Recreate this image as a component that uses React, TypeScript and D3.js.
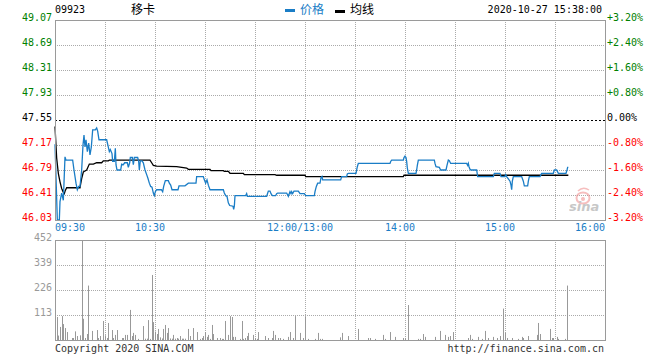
import React from "react";
import * as d3 from "d3";

// ---- data (minute offsets from 09:30, trading minutes; 150 = 12:00/13:00) ----
const stockCode = "09923";
const stockName = "移卡";
const timestamp = "2020-10-27 15:38:00";
const prevClose = 47.55;

const priceTicks = [49.07, 48.69, 48.31, 47.93, 47.55, 47.17, 46.79, 46.41, 46.03];
const pctLabels = ["+3.20%", "+2.40%", "+1.60%", "+0.80%", "0.00%", "-0.80%", "-1.60%", "-2.40%", "-3.20%"];
const volTicks = [452, 339, 226, 113];
const timeTickMinutes = [0, 60, 150, 210, 270, 330];
const timeTickLabels = ["09:30", "10:30", "12:00/13:00", "14:00", "15:00", "16:00"];
const gridMinutes = [30, 60, 90, 120, 150, 180, 210, 240, 270, 300];

const priceMinutes = [
  0, 1.4, 2.6, 3, 4, 5, 6, 6.6, 10.6, 11.4, 12.6, 13.4, 14.2, 15, 16, 16.8, 17.4, 18, 18.6, 19.4,
  20.2, 21, 21.8, 22.6, 24.2, 25, 25.6, 26.4, 31, 31.8, 32.6, 33.2, 34.2, 34.6, 35.6, 36.2, 36.6, 37.2, 39.4, 40,
  41, 41.8, 43.4, 44, 44.8, 45.2, 46.4, 47, 47.6, 49.6, 50.2, 50.6, 51.2, 52.2, 53, 54, 55, 55.8, 56.6, 57.4,
  58.2, 59, 59.6, 60.2, 61, 63.8, 64.6, 65.2, 66.2, 68, 68.6, 69.4, 70.2, 73.8, 74.4, 78, 80, 84.6, 85, 89,
  89.6, 90.4, 91.2, 92, 93, 101, 101.6, 102.4, 103.2, 104, 104.8, 106.8, 107.2, 107.6, 108, 114.4, 115, 115.4, 127, 128,
  129, 129.6, 130.4, 132.4, 133, 133.6, 139, 140, 141, 141.6, 142, 142.6, 143.4, 146, 147, 149.6, 150.4, 155.6, 156, 156.8,
  157.6, 159, 159.6, 160.2, 160.6, 171.4, 172, 175, 175.4, 176, 180.6, 181, 181.4, 182, 201, 201.4, 202, 209, 209.4, 210,
  210.6, 211, 211.4, 212, 216.6, 217, 217.4, 218, 227.6, 228, 228.6, 230.6, 231.4, 234.6, 235.2, 236, 236.6, 237.4, 247, 247.6,
  248, 248.4, 249, 249.6, 253, 253.6, 263, 263.6, 267, 267.6, 270, 270.4, 271, 273, 273.6, 274, 274.4, 275, 280, 281,
  281.6, 283.6, 284, 284.6, 291, 291.6, 292, 299, 299.6, 301, 302, 306.6, 307.2, 307.6, 308,
];
const priceValues = [
  47.18, 46.03, 46.03, 46.31, 46.44, 46.33, 46.99, 46.94, 46.94, 46.79, 46.59, 46.49, 46.54, 46.54, 46.79, 47.17, 47.32, 47.14, 47.25, 47.07,
  47.2, 47.02, 47.14, 47.4, 47.4, 47.43, 47.38, 47.25, 47.25, 47.16, 47.07, 47.1, 47.04, 46.92, 46.92, 47.12, 46.87, 46.79, 46.79, 46.88,
  46.87, 46.9, 46.9, 46.83, 46.9, 46.98, 46.98, 46.87, 46.98, 46.98, 46.92, 46.79, 46.93, 46.93, 46.9, 46.79, 46.72, 46.66, 46.59, 46.54,
  46.53, 46.44, 46.4, 46.46, 46.49, 46.49, 46.46, 46.54, 46.63, 46.63, 46.59, 46.56, 46.49, 46.49, 46.55, 46.55, 46.59, 46.59, 46.69, 46.69,
  46.64, 46.59, 46.64, 46.56, 46.49, 46.49, 46.44, 46.4, 46.39, 46.29, 46.25, 46.24, 46.19, 46.24, 46.4, 46.4, 46.43, 46.39, 46.39, 46.47,
  46.47, 46.43, 46.4, 46.4, 46.43, 46.44, 46.44, 46.39, 46.46, 46.43, 46.46, 46.43, 46.47, 46.47, 46.43, 46.43, 46.4, 46.4, 46.46, 46.54,
  46.59, 46.59, 46.67, 46.69, 46.64, 46.64, 46.69, 46.69, 46.73, 46.74, 46.74, 46.79, 46.84, 46.89, 46.89, 46.92, 46.94, 46.94, 46.98, 47.0,
  46.98, 46.92, 46.82, 46.74, 46.74, 46.79, 46.86, 46.94, 46.94, 46.89, 46.84, 46.83, 46.79, 46.79, 46.86, 46.94, 46.93, 46.89, 46.89, 46.86,
  46.89, 46.84, 46.8, 46.79, 46.79, 46.69, 46.69, 46.74, 46.74, 46.69, 46.69, 46.72, 46.69, 46.62, 46.56, 46.49, 46.62, 46.69, 46.69, 46.62,
  46.55, 46.55, 46.62, 46.69, 46.69, 46.72, 46.74, 46.74, 46.79, 46.79, 46.74, 46.74, 46.79, 46.83, 46.83,
];

const avgMinutes = [
  0, 1, 2, 3, 4, 5, 5.6, 6.2, 7, 15, 15.4, 16, 17, 19, 20.6, 23, 25, 28, 29, 32,
  32.6, 57, 58, 59, 61, 73, 79, 80, 93, 93.6, 101, 101.6, 104, 105, 113, 113.6, 132, 133, 150, 150.4,
  209, 209.4, 308,
];
const avgValues = [
  47.45, 46.97, 46.74, 46.61, 46.51, 46.45, 46.43, 46.48, 46.52, 46.52, 46.58, 46.66, 46.76, 46.79, 46.88, 46.88, 46.9, 46.9, 46.93, 46.93,
  46.94, 46.94, 46.9, 46.86, 46.85, 46.84, 46.82, 46.8, 46.8, 46.78, 46.78, 46.77, 46.77, 46.74, 46.74, 46.72, 46.72, 46.71, 46.71, 46.69,
  46.69, 46.71, 46.71,
];

const volMinutes = [
  1, 2, 3, 4, 5, 6, 7, 10, 11, 12, 13, 15, 16, 17, 18, 19, 20, 22, 25, 26,
  27, 29, 30, 31, 32, 34, 35, 36, 37, 40, 41, 42, 43, 45, 46, 47, 48, 50, 53, 54,
  55, 56, 57, 58, 59, 60, 61, 62, 63, 64, 65, 66, 67, 68, 69, 70, 71, 72, 73, 74,
  75, 76, 77, 78, 80, 81, 83, 85, 87, 88, 89, 90, 91, 92, 93, 94, 95, 97, 99, 100,
  101, 102, 104, 105, 106, 107, 108, 111, 112, 113, 114, 115, 116, 119, 120, 121, 122, 126, 128, 130,
  131, 132, 134, 135, 137, 140, 141, 143, 144, 147, 149, 150, 152, 156, 158, 159, 160, 171, 172, 176,
  182, 188, 189, 192, 197, 198, 201, 204, 209, 210, 212, 218, 219, 221, 222, 228, 231, 234, 236, 237,
  239, 248, 249, 250, 254, 256, 258, 260, 263, 265, 267, 269, 270, 271, 274, 278, 280, 281, 284, 289,
  290, 291, 297, 298, 299, 301, 302, 306, 307,
];
const volValues = [
  104, 20, 59, 108, 72, 54, 36, 9, 9, 39, 18, 21, 452, 96, 9, 27, 246, 41, 45, 9,
  18, 86, 21, 9, 77, 45, 9, 23, 45, 9, 9, 23, 23, 136, 18, 32, 23, 5, 63, 6,
  6, 90, 5, 294, 81, 38, 27, 50, 12, 7, 50, 68, 32, 54, 7, 6, 23, 6, 9, 6,
  18, 6, 6, 6, 50, 18, 54, 36, 5, 9, 18, 36, 14, 23, 5, 68, 27, 9, 9, 5,
  5, 86, 23, 108, 104, 14, 14, 5, 86, 5, 9, 18, 32, 23, 9, 5, 36, 18, 9, 9,
  41, 23, 9, 9, 5, 14, 36, 9, 108, 32, 9, 104, 5, 5, 32, 5, 5, 12, 32, 18,
  50, 9, 9, 5, 23, 5, 36, 14, 9, 9, 158, 5, 5, 27, 14, 14, 41, 23, 14, 18,
  36, 9, 23, 5, 14, 5, 41, 9, 14, 9, 18, 142, 32, 9, 9, 5, 14, 9, 18, 23,
  77, 27, 50, 9, 9, 14, 5, 5, 246,
];

// ---- layout ----
const W = 660;
const H = 360;
const L = 55;
const R = 605;
const PT = 20;
const PB = 220;
const VT = 240;
const VB = 340;

const MONO = "'DejaVu Sans Mono', monospace";
const CJK = "'Noto Sans CJK SC', sans-serif";
const BLUE = "#1a7dc6";
const GRID = "#aaaaaa";
const FRAME = "#9a9a9a";

export default function App() {
  const x = d3.scaleLinear().domain([0, 330]).range([L, R]);
  const y = d3.scaleLinear().domain([priceTicks[priceTicks.length - 1], priceTicks[0]]).range([PB, PT]);
  const yv = d3.scaleLinear().domain([0, volTicks[0]]).range([VB, VT]);

  const priceData = priceMinutes.map((m, i) => [m, priceValues[i]] as [number, number]);
  const avgData = avgMinutes.map((m, i) => [m, avgValues[i]] as [number, number]);

  const line = d3
    .line<[number, number]>()
    .x((d) => x(d[0]))
    .y((d) => y(d[1]));

  const priceColor = (p: number) => (p > prevClose ? "#008000" : p < prevClose ? "#ff0000" : "#000000");

  const crisp = (v: number) => Math.round(v) + 0.5;

  return (
    <svg
      width={W}
      height={H}
      style={{ position: "absolute", left: 0, top: 0, background: "#fff" }}
      xmlns="http://www.w3.org/2000/svg"
    >
      <rect x={0} y={0} width={W} height={H} fill="#fff" />

      {/* header */}
      <text x={L} y={13} fontFamily={MONO} fontSize={10} fill="#000">{stockCode}</text>
      <text x={131} y={14} fontFamily={CJK} fontSize={12} fill="#000">{stockName}</text>
      <rect x={285} y={9} width={10} height={3} fill={BLUE} />
      <text x={300} y={14} fontFamily={CJK} fontSize={12} fill={BLUE}>价格</text>
      <rect x={335} y={10} width={10} height={3} fill="#000" />
      <text x={350} y={14} fontFamily={CJK} fontSize={12} fill="#000">均线</text>
      <text x={602} y={13} fontFamily={MONO} fontSize={10} fill="#000" textAnchor="end">{timestamp}</text>

      {/* price grid */}
      {priceTicks.slice(1, -1).map((p) =>
        p === prevClose ? null : (
          <line key={"hg" + p} x1={L} x2={R} y1={crisp(y(p))} y2={crisp(y(p))} stroke={GRID} strokeDasharray="1,1" />
        )
      )}
      {gridMinutes.map((m) => (
        <line key={"vg" + m} x1={crisp(x(m))} x2={crisp(x(m))} y1={PT} y2={PB} stroke={GRID} strokeDasharray="1,1" />
      ))}
      <line x1={L} x2={R} y1={crisp(y(prevClose))} y2={crisp(y(prevClose))} stroke="#000" strokeDasharray="2,2" />

      {/* watermark */}
      <g opacity={0.55}>
        <ellipse cx={583} cy={198} rx={6.5} ry={5.5} fill="none" stroke="#f08a8a" strokeWidth={2} />
        <circle cx={583} cy={199} r={2} fill="#f08a8a" />
        <path d="M578,191 q5,-5 11,-1" fill="none" stroke="#f08a8a" strokeWidth={1.5} />
        <text x={569} y={211} fontFamily="'DejaVu Sans', sans-serif" fontSize={13} fontWeight="bold" fontStyle="italic" fill="#9a9a9a">sina</text>
      </g>

      {/* lines */}
      <path d={line(avgData) || ""} fill="none" stroke="#000" strokeWidth={1.3} />
      <path d={line(priceData) || ""} fill="none" stroke={BLUE} strokeWidth={1.3} />

      {/* price frame */}
      <rect x={L + 0.5} y={PT + 0.5} width={R - L} height={PB - PT} fill="none" stroke={FRAME} strokeWidth={1} />

      {/* price labels */}
      {priceTicks.map((p) => (
        <text key={"pl" + p} x={52} y={Math.round(y(p)) + 1} fontFamily={MONO} fontSize={10} fill={priceColor(p)} textAnchor="end">
          {p.toFixed(2)}
        </text>
      ))}
      {pctLabels.map((t, i) => (
        <text key={"pc" + t} x={607} y={Math.round(y(priceTicks[i])) + 1} fontFamily={MONO} fontSize={10} fill={priceColor(priceTicks[i])}>
          {t}
        </text>
      ))}

      {/* time labels */}
      {timeTickMinutes.map((m, i) => {
        const anchor = i === 0 ? "start" : i === timeTickMinutes.length - 1 ? "end" : "middle";
        const tx = i === 0 ? x(m) : i === timeTickMinutes.length - 1 ? x(m) : x(m) - 5;
        return (
          <text key={"tl" + m} x={tx} y={231} fontFamily={MONO} fontSize={10} fill={BLUE} textAnchor={anchor}>
            {timeTickLabels[i]}
          </text>
        );
      })}

      {/* volume grid */}
      {volTicks.slice(1).map((v) => (
        <line key={"vh" + v} x1={L} x2={R} y1={crisp(yv(v))} y2={crisp(yv(v))} stroke={GRID} strokeDasharray="1,1" />
      ))}
      {gridMinutes.map((m) => (
        <line key={"vv" + m} x1={crisp(x(m))} x2={crisp(x(m))} y1={VT} y2={VB} stroke={GRID} strokeDasharray="1,1" />
      ))}

      {/* volume bars */}
      {volMinutes.map((m, i) => (
        <line
          key={"vb" + m}
          x1={crisp(x(m))}
          x2={crisp(x(m))}
          y1={VB}
          y2={yv(volValues[i])}
          stroke="#999"
          strokeWidth={1}
        />
      ))}

      <rect x={L + 0.5} y={VT + 0.5} width={R - L} height={VB - VT} fill="none" stroke={FRAME} strokeWidth={1} />

      {volTicks.map((v) => (
        <text key={"vl" + v} x={52} y={Math.round(yv(v)) + 1} fontFamily={MONO} fontSize={10} fill="#999" textAnchor="end">
          {v}
        </text>
      ))}

      {/* footer */}
      <text x={L} y={352} fontFamily={MONO} fontSize={10} fill="#333">Copyright 2020 SINA.COM</text>
      <text x={604} y={352} fontFamily={MONO} fontSize={10} fill="#333" textAnchor="end">http://finance.sina.com.cn</text>
    </svg>
  );
}
